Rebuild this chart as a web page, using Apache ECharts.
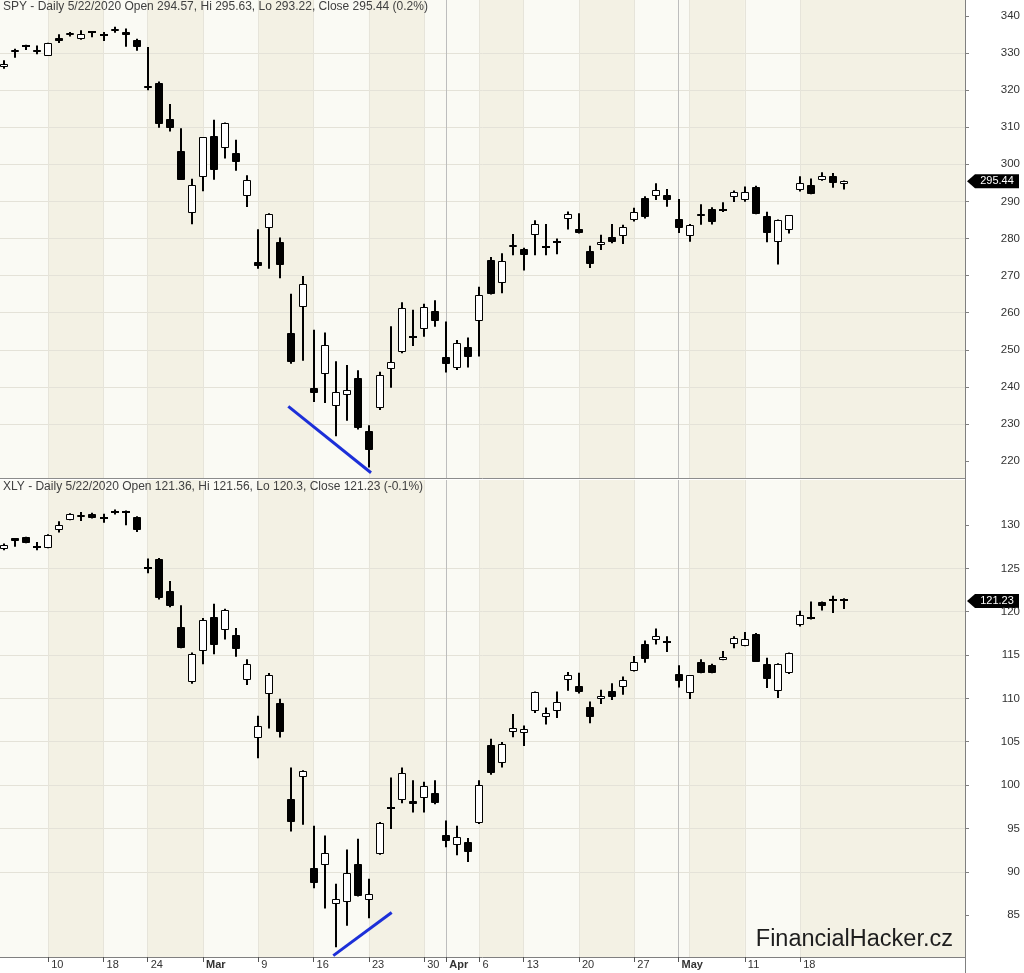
<!DOCTYPE html>
<html><head><meta charset="utf-8">
<script src="https://cdn.jsdelivr.net/npm/echarts@6.0.0/dist/echarts.min.js"></script>
<style>html,body{margin:0;padding:0;background:#fff}#c{width:1024px;height:973px}</style>
</head><body><div id="c"></div>
<script>
// ---- data ----
const dates = ['2/4','2/5','2/6','2/7','2/10','2/11','2/12','2/13','2/14','2/18','2/19','2/20','2/21','2/24','2/25','2/26','2/27','2/28',
 '3/2','3/3','3/4','3/5','3/6','3/9','3/10','3/11','3/12','3/13','3/16','3/17','3/18','3/19','3/20','3/23','3/24','3/25','3/26','3/27','3/30','3/31',
 '4/1','4/2','4/3','4/6','4/7','4/8','4/9','4/13','4/14','4/15','4/16','4/17','4/20','4/21','4/22','4/23','4/24','4/27','4/28','4/29','4/30',
 '5/1','5/4','5/5','5/6','5/7','5/8','5/11','5/12','5/13','5/14','5/15','5/18','5/19','5/20','5/21','5/22'];

// [open, high, low, close]
const spyOHLC = [
 [326.13,328.06,325.79,327.12],[330.31,331.12,328.72,330.90],[331.94,332.22,330.84,332.01],[330.86,332.02,329.64,330.24],
 [329.27,332.77,329.23,332.71],[334.18,335.03,332.71,333.28],[334.84,335.66,334.45,335.43],[333.88,336.13,333.58,335.07],
 [335.52,335.74,334.22,335.61],[334.53,335.68,333.23,334.74],[335.80,337.08,335.49,336.34],[335.75,336.64,331.71,334.96],
 [333.49,333.82,330.62,331.51],[321.23,331.59,319.97,320.52],[322.03,322.33,309.85,310.81],[312.33,316.23,308.87,309.66],
 [303.66,309.72,295.75,295.75],[287.00,296.13,283.86,294.51],[296.45,307.34,292.72,307.27],[307.67,311.99,295.81,298.47],
 [304.31,311.25,301.54,311.02],[303.18,306.65,298.24,300.68],[291.41,297.06,288.52,295.71],[273.68,282.51,271.84,272.61],
 [282.96,286.82,271.86,286.72],[279.04,280.28,269.28,272.74],[254.43,265.09,246.22,246.65],[261.54,269.88,247.05,267.73],
 [239.76,255.38,235.96,238.43],[243.59,254.66,235.67,251.31],[234.86,246.90,226.67,238.58],[237.84,245.92,230.85,239.09],
 [242.53,244.47,228.50,228.80],[228.19,229.68,218.26,222.95],[234.42,244.10,233.80,243.15],[244.87,256.35,239.75,246.79],
 [249.52,262.80,249.05,261.20],[253.27,260.81,251.05,253.42],[255.70,262.43,253.53,261.65],[260.56,263.33,256.22,257.75],
 [247.98,257.66,243.90,246.15],[245.19,252.68,244.59,251.83],[250.76,253.32,245.22,248.19],[257.84,267.00,248.17,264.86],
 [274.21,275.03,264.89,265.13],[267.96,276.00,265.25,274.03],[277.58,281.20,275.47,278.20],[277.14,277.51,271.41,275.66],
 [280.98,284.90,275.51,283.79],[277.57,283.94,275.46,277.76],[279.15,280.03,275.76,279.10],[285.38,287.30,282.40,286.64],
 [282.61,286.79,281.35,281.59],[276.73,278.04,272.02,273.04],[278.35,281.00,276.91,279.10],[280.49,283.94,278.75,279.08],
 [280.73,283.70,278.50,282.97],[285.12,288.27,284.62,287.05],[291.02,291.40,285.40,285.73],[291.53,294.88,290.41,293.21],
 [291.71,293.32,288.59,290.48],[285.31,290.66,281.52,282.79],[280.74,283.90,279.13,283.57],[286.64,289.25,283.71,286.19],
 [288.04,288.46,283.78,284.34],[287.75,289.78,287.13,287.70],[291.09,292.95,289.86,292.44],[290.34,294.00,289.88,292.50],
 [293.79,294.24,286.52,286.67],[286.06,287.19,278.97,281.60],[278.95,285.11,272.99,284.97],[282.37,286.33,281.34,286.28],
 [293.05,296.75,292.70,295.00],[294.35,296.21,291.95,291.97],[295.82,297.87,295.57,296.93],[296.79,297.67,293.69,294.88],
 [294.57,295.63,293.22,295.44]
];
const xlyOHLC = [
 [127.22,127.86,127.10,127.67],[128.45,128.50,127.50,128.20],[128.60,128.65,127.90,127.95],[127.50,128.05,127.10,127.45],
 [127.37,128.92,127.33,128.89],[129.39,130.42,129.12,129.96],[130.61,131.35,130.55,131.29],[130.90,131.49,130.46,131.10],
 [131.29,131.40,130.75,130.80],[130.85,131.29,130.26,130.78],[131.38,131.80,131.20,131.45],[131.50,131.68,129.96,131.45],
 [130.92,131.00,129.20,129.39],[125.00,126.14,124.42,124.90],[126.07,126.20,121.40,121.56],[122.40,123.55,120.50,120.61],
 [118.24,120.73,115.77,115.84],[111.94,115.30,111.70,115.08],[115.46,119.27,113.94,119.09],[119.35,120.92,115.08,116.14],
 [117.94,120.35,116.80,120.23],[117.26,118.13,114.80,115.65],[112.10,114.51,111.53,113.94],[105.38,108.00,103.10,106.87],
 [110.53,112.94,106.53,112.71],[109.50,109.96,105.50,106.18],[98.40,102.03,94.65,95.73],[100.95,101.72,95.42,101.64],
 [90.46,95.30,88.09,88.74],[90.76,94.19,85.76,92.18],[86.26,88.63,81.30,86.91],[86.57,92.56,83.77,89.89],
 [90.95,93.82,87.15,87.21],[86.72,89.20,84.65,87.40],[92.06,95.75,91.95,95.68],[97.20,100.88,94.93,97.30],
 [98.28,102.03,97.90,101.34],[98.17,100.57,96.83,97.83],[98.48,100.38,96.83,99.92],[99.12,100.57,97.79,97.90],
 [94.19,95.91,92.82,93.59],[93.05,95.30,91.90,93.96],[93.39,93.89,91.14,92.25],[95.61,100.57,95.50,100.00],
 [104.58,105.34,101.20,101.34],[102.60,104.96,102.03,104.77],[106.10,108.20,105.53,106.56],[106.03,106.87,104.50,106.49],
 [108.59,110.80,108.30,110.68],[107.90,108.96,106.98,108.27],[108.59,110.80,107.75,109.62],[112.10,113.05,110.88,112.71],
 [111.45,112.97,110.57,110.68],[108.96,109.65,107.13,107.82],[109.93,110.99,109.35,110.30],[110.80,111.76,109.81,110.11],
 [111.26,112.52,110.42,112.10],[113.17,114.88,113.10,114.20],[116.29,116.68,114.12,114.51],[116.72,118.06,116.23,117.18],
 [116.45,117.18,115.34,116.38],[112.79,113.82,111.26,112.02],[110.57,112.70,109.93,112.67],[114.20,114.51,112.90,112.97],
 [113.82,114.00,112.90,112.97],[114.42,115.46,114.40,114.80],[116.26,117.18,115.77,117.00],[116.03,117.67,116.00,116.80],
 [117.37,117.55,114.20,114.23],[114.00,114.69,111.19,112.22],[110.88,114.05,110.04,113.93],[112.97,115.30,112.80,115.27],
 [118.43,120.12,118.30,119.58],[119.32,121.18,119.10,119.15],[121.10,121.18,120.15,120.61],[121.25,121.84,119.84,121.35],
 [121.36,121.56,120.30,121.23]
];
const tickDates  = ['2/10','2/18','2/24','3/2','3/9','3/16','3/23','3/30','4/1','4/6','4/13','4/20','4/27','5/1','5/11','5/18'];
const tickLabels = ['10','18','24','Mar','9','16','23','30','Apr','6','13','20','27','May','11','18'];
const weekStarts = ['2/10','2/18','2/24','3/2','3/9','3/16','3/23','3/30','4/6','4/13','4/20','4/27','5/4','5/11','5/18'];
const monthStarts = ['4/1','5/1'];
const spyPriceTicks = [220,230,240,250,260,270,280,290,300,310,320,330,340];
const xlyPriceTicks = [85,90,95,100,105,110,115,120,125,130];
// trend lines: [position in trading days from 2/4, price]
const spyTrend = [[25.71,234.76],[33.19,216.87]];
const xlyTrend = [[29.78,80.33],[35.06,85.30]];
const spyHeader = 'SPY - Daily 5/22/2020 Open 294.57, Hi 295.63, Lo 293.22, Close 295.44 (0.2%)';
const xlyHeader = 'XLY - Daily 5/22/2020 Open 121.36, Hi 121.56, Lo 120.3, Close 121.23 (-0.1%)';

// ---- chart ----
const XMIN = -0.362, XMAX = 86.91;
const FONT = "'Liberation Sans', Arial, sans-serif";
const NARROW = "'Liberation Sans Narrow', 'Arial Narrow', 'Liberation Sans', Arial, sans-serif";
const idx = d => dates.indexOf(d);
const tickIdx = tickDates.map(idx);
const labelByIdx = {};
tickDates.forEach((d, k) => { labelByIdx[idx(d)] = tickLabels[k]; });
const toSeries = rows => rows.map((r, i) => [i, r[0], r[1], r[2], r[3]]);

const darkBands = [];
for (let k = 0; k < weekStarts.length; k += 2) {
  const a = idx(weekStarts[k]);
  const b = k + 1 < weekStarts.length ? idx(weekStarts[k + 1]) : XMAX;
  darkBands.push([{ xAxis: a }, { xAxis: b }]);
}
const vLines = weekStarts.map(d => ({ xAxis: idx(d) }))
  .concat(monthStarts.map(d => ({ xAxis: idx(d), lineStyle: { color: '#bdbdbd', width: 1, type: 'solid' } })));

function candle(params, api) {
  const i = api.value(0);
  const o = api.value(1), h = api.value(2), l = api.value(3), c = api.value(4);
  const pO = api.coord([i, o]), pC = api.coord([i, c]);
  const yH = api.coord([i, h])[1], yL = api.coord([i, l])[1];
  const cx = Math.round(pO[0]);
  const top = Math.round(Math.min(pO[1], pC[1])), bot = Math.round(Math.max(pO[1], pC[1]));
  const up = c > o;
  const ch = [{ type: 'rect', shape: { x: cx - 1, y: yH, width: 2, height: Math.max(1, yL - yH) }, style: { fill: '#000' } }];
  if (bot - top < 2) {
    ch.push({ type: 'rect', shape: { x: cx - 4, y: top - 1, width: 8, height: 2 }, style: { fill: '#000' } });
  } else {
    ch.push({ type: 'rect', shape: { x: cx - 3.5, y: top + 0.5, width: 7, height: bot - top - 1 },
      style: { fill: up ? '#fff' : '#000', stroke: '#000', lineWidth: 1 } });
  }
  return { type: 'group', children: ch };
}

function yAxisCfg(grid, min, max, step, ticks) {
  return {
    type: 'value', gridIndex: grid, position: 'right', min: min, max: max, minInterval: step, maxInterval: step, z: 2,
    axisLine: { show: true, onZero: false, lineStyle: { color: '#808080', width: 1 } },
    axisTick: { show: true, length: 4, customValues: ticks, lineStyle: { color: '#808080' } },
    axisLabel: { customValues: ticks, showMinLabel: true, showMaxLabel: true, align: 'right', margin: 55, fontSize: 11.5, color: '#333', fontFamily: FONT },
    splitLine: { show: true, showMinLine: false, showMaxLine: false, lineStyle: { color: '#e4e2d8', width: 1 } }
  };
}
function bgSeries(grid) {
  return {
    type: 'line', xAxisIndex: grid, yAxisIndex: grid, data: [], z: 1, silent: true,
    markArea: { silent: true, itemStyle: { color: '#f3f1e4' }, data: darkBands },
    markLine: { silent: true, symbol: 'none', label: { show: false }, animation: false,
      lineStyle: { color: '#e6e4da', width: 1, type: 'solid' }, data: vLines }
  };
}

const chart = echarts.init(document.getElementById('c'), null, { renderer: 'canvas' });
chart.setOption({
  animation: false,
  backgroundColor: '#ffffff',
  grid: [
    { left: 0, right: 59, top: 0, height: 478, show: true, backgroundColor: '#fafaf4', borderWidth: 0 },
    { left: 0, right: 59, top: 480, height: 477, show: true, backgroundColor: '#fafaf4', borderWidth: 0 }
  ],
  xAxis: [
    { type: 'value', gridIndex: 0, min: XMIN, max: XMAX, show: false, splitLine: { show: false }, axisLine: { onZero: false } },
    { type: 'value', gridIndex: 1, min: XMIN, max: XMAX, z: 2,
      axisLine: { show: true, onZero: false, lineStyle: { color: '#808080' } }, splitLine: { show: false },
      axisTick: { show: true, customValues: tickIdx, length: 5, lineStyle: { color: '#555' } },
      axisLabel: { customValues: tickIdx, align: 'left', padding: [0, 0, 0, 3], margin: 2, fontSize: 11, color: '#333', fontFamily: NARROW,
        formatter: v => { const s = labelByIdx[Math.round(v)] || ''; return /[A-Za-z]/.test(s) ? '{b|' + s + '}' : s; },
        rich: { b: { fontWeight: 'bold', fontSize: 11, color: '#333', fontFamily: NARROW } } } }
  ],
  yAxis: [ yAxisCfg(0, 215.45, 344.29, 10, spyPriceTicks), yAxisCfg(1, 80.17, 135.19, 5, xlyPriceTicks) ],
  series: [
    bgSeries(0), bgSeries(1),
    { type: 'custom', xAxisIndex: 0, yAxisIndex: 0, z: 5, renderItem: candle, data: toSeries(spyOHLC), encode: { x: 0, y: [1, 2, 3, 4] } },
    { type: 'custom', xAxisIndex: 1, yAxisIndex: 1, z: 5, renderItem: candle, data: toSeries(xlyOHLC), encode: { x: 0, y: [1, 2, 3, 4] } },
    { type: 'line', xAxisIndex: 0, yAxisIndex: 0, z: 6, data: spyTrend, symbol: 'none', lineStyle: { color: '#1c2fd8', width: 3 } },
    { type: 'line', xAxisIndex: 1, yAxisIndex: 1, z: 6, data: xlyTrend, symbol: 'none', lineStyle: { color: '#1c2fd8', width: 3 } }
  ]
});

function tag(axis, val) {
  const y = chart.convertToPixel({ yAxisIndex: axis }, val);
  return { type: 'group', z: 20, children: [
    { type: 'polygon', shape: { points: [[967, y], [975, y - 7], [1019, y - 7], [1019, y + 7], [975, y + 7]] }, style: { fill: '#000' } },
    { type: 'text', x: 997, y: y, style: { text: val.toFixed(2), fill: '#fff', font: '11px ' + FONT, align: 'center', verticalAlign: 'middle' } }
  ] };
}
const spyLast = spyOHLC[spyOHLC.length - 1][3], xlyLast = xlyOHLC[xlyOHLC.length - 1][3];
chart.setOption({ graphic: [
  { type: 'line', z: 15, shape: { x1: 0, y1: 478.5, x2: 965, y2: 478.5 }, style: { stroke: '#8c8c8c', lineWidth: 1 } },
  { type: 'line', z: 15, shape: { x1: 965.5, y1: 0, x2: 965.5, y2: 973 }, style: { stroke: '#808080', lineWidth: 1 } },
  { type: 'text', z: 15, x: 3, y: 7, style: { text: spyHeader, fill: '#404040', font: '12px ' + FONT, verticalAlign: 'middle' } },
  { type: 'text', z: 15, x: 3, y: 487, style: { text: xlyHeader, fill: '#404040', font: '12px ' + FONT, verticalAlign: 'middle' } },
  { type: 'text', z: 15, x: 953, y: 940, style: { text: 'FinancialHacker.cz', fill: '#1e1e1e', font: '23.5px ' + FONT, align: 'right', verticalAlign: 'middle' } },
  tag(0, spyLast), tag(1, xlyLast)
] });
</script></body></html>
